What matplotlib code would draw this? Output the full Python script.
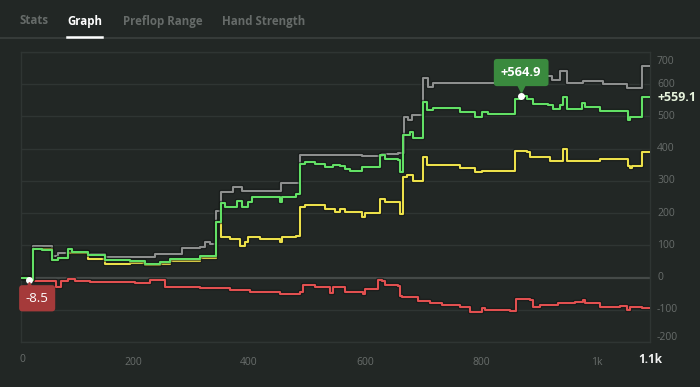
import matplotlib
matplotlib.use('Agg')
import matplotlib.pyplot as plt
import matplotlib.transforms as mtransforms
import matplotlib.patheffects as pe
from matplotlib.lines import Line2D

plt.rcParams['font.family'] = ['Open Sans', 'DejaVu Sans']

# ---------------- data (hand number, value) ----------------
gray_hands = [5, 28, 60, 71, 88, 122, 152, 238, 284, 316, 324, 333, 343, 352, 372, 388, 455, 488, 595, 629,
              657, 667, 674, 681, 700, 709, 717, 860, 922, 936, 948, 976, 1010, 1052, 1078, 1090]
gray_vals = [0, 98, 68, 75, 80, 72, 63, 72, 92, 95, 110, 103, 208, 267, 280, 270, 294, 379, 376, 384,
             386, 498, 488, 503, 619, 591, 605, 624, 612, 641, 603, 609, 601, 588, 656, 656]

green_hands = [5, 21, 28, 43, 60, 71, 88, 95, 122, 152, 195, 221, 247, 264, 316, 343, 352, 359, 379, 388,
               398, 405, 453, 457, 481, 488, 497, 514, 531, 545, 557, 566, 574, 595, 626, 634, 657, 660,
               666, 678, 683, 700, 707, 717, 764, 790, 802, 812, 859, 869, 879, 890, 916, 924, 936, 941,
               948, 974, 979, 1005, 1053, 1057, 1078, 1090]
green_vals = [0, -8.5, 89, 86, 53, 62, 89, 78, 70, 55, 50, 43, 47, 58, 68, 172, 230, 220, 237, 220,
              234, 251, 236, 251, 258, 353, 358, 352, 343, 350, 345, 336, 332, 343, 379, 368, 365, 327,
              441, 451, 432, 544, 519, 525, 513, 498, 513, 509, 555, 564.9, 555, 539, 534, 524, 534, 560,
              524, 541, 529, 516, 490, 498, 559.1, 559.1]

yellow_hands = [5, 21, 28, 60, 71, 88, 122, 152, 195, 221, 247, 264, 316, 343, 352, 367, 384, 393, 398, 419,
                453, 457, 481, 488, 497, 531, 548, 557, 566, 595, 600, 626, 634, 657, 660, 666, 672, 683,
                700, 707, 764, 790, 802, 859, 879, 884, 919, 936, 941, 948, 1005, 1053, 1057, 1060, 1078, 1090]
yellow_vals = [0, -8.5, 89, 53, 60, 75, 58, 42, 45, 38, 42, 50, 60, 172, 127, 120, 99, 110, 125, 120,
               110, 125, 130, 220, 224, 213, 203, 214, 203, 187, 199, 244, 234, 234, 198, 311, 317, 301,
               374, 348, 339, 327, 332, 394, 391, 374, 361, 363, 400, 363, 369, 345, 340, 345, 389, 389]

red_hands = [5, 28, 68, 75, 88, 100, 126, 203, 229, 247, 255, 316, 367, 402, 453, 488, 493, 514, 540, 545,
             566, 597, 600, 622, 629, 634, 657, 660, 664, 691, 712, 733, 764, 781, 802, 807, 850, 860,
             884, 890, 902, 933, 962, 976, 979, 1005, 1040, 1052, 1057, 1078, 1090]
red_vals = [0, -11, -30, -10, -4, -12, -14, -17, -7, -8, -30, -33, -40, -45, -52, -45, -22, -30, -48, -30,
            -46, -51, -35, -7, -10, -22, -26, -56, -59, -73, -80, -84, -92, -108, -94, -100, -105, -66,
            -71, -92, -85, -80, -77, -69, -78, -90, -87, -102, -92, -95, -95]

y_ticks = [-200, -100, 0, 100, 200, 300, 400, 500, 600, 700]
x_ticks = [200, 400, 600, 800, 1000]
x_tick_labels = ['200', '400', '600', '800', '1k']
tabs = ['Stats', 'Graph', 'Preflop Range', 'Hand Strength']

peak_hand, peak_val = 869, 564.9
min_hand, min_val = 21, -8.5
final_val = 559.1

# ---------------- style ----------------
BG = '#222725'
GRID = '#2f3533'
ZERO = '#454a48'
TXT = '#686d6b'
C_GRAY = '#8d8f8e'
C_GREEN = '#62e065'
C_YELLOW = '#ece04a'
C_RED = '#e25050'

W, H = 700, 387
fig = plt.figure(figsize=(W / 100, H / 100), dpi=100, facecolor=BG)
L, R, T, B = 20.7, 650, 52, 342
ax = fig.add_axes([L / W, 1 - B / H, (R - L) / W, (B - T) / H])
ax.set_facecolor(BG)
ax.set_xlim(6.4, 1091)
ax.set_ylim(-200, 700)

for s in ax.spines.values():
    s.set_color(GRID)
    s.set_linewidth(1)
for v in y_ticks:
    if v == 0:
        ax.axhline(v, color=ZERO, lw=1.6, zorder=1)
    else:
        ax.axhline(v, color=GRID, lw=1, zorder=1)

ax.set_yticks([])
ax.set_xticks(x_ticks)
ax.set_xticklabels(x_tick_labels, color=TXT, fontsize=7.5)
ax.tick_params(axis='x', length=0, pad=11)

# y labels on right
ytrans = mtransforms.blended_transform_factory(ax.transAxes, ax.transData)
for v in y_ticks:
    if v == 700:
        tr = mtransforms.offset_copy(ytrans, fig=fig, x=7, y=-10, units='dots')
    elif v == -200:
        tr = mtransforms.offset_copy(ytrans, fig=fig, x=7, y=4, units='dots')
    else:
        tr = mtransforms.offset_copy(ytrans, fig=fig, x=7, y=0, units='dots')
    ax.text(1.0, v, str(v), transform=tr, ha='left', va='center', color=TXT, fontsize=7.5)

# x extra labels
fig.text(22.7 / W, 1 - 359.5 / H, '0', color=TXT, fontsize=7.5, ha='center', va='center')
fig.text(650 / W, 1 - 359.5 / H, '1.1k', color='#f2f2f2', fontsize=8.5, fontweight='bold', ha='center', va='center')

shadow = [pe.Stroke(linewidth=3.2, foreground='#0f1211', alpha=0.55), pe.Normal()]
for hs, vs, c, z in [(gray_hands, gray_vals, C_GRAY, 3), (red_hands, red_vals, C_RED, 4),
                     (yellow_hands, yellow_vals, C_YELLOW, 5), (green_hands, green_vals, C_GREEN, 6)]:
    ax.step(hs, vs, where='post', color=c, lw=1.5, zorder=z, path_effects=shadow)

# peak annotation
ax.plot(peak_hand, peak_val, 'o', ms=4, color='white', zorder=9)
ax.annotate('+564.9', xy=(peak_hand, peak_val), xytext=(0, 23), textcoords='offset pixels',
            ha='center', va='center', color='white', fontsize=9.3, fontweight='bold', zorder=10,
            bbox=dict(boxstyle='round,pad=0.55,rounding_size=0.25', fc='#3a8a3e', ec='none'))
tri = mtransforms.offset_copy(ax.transData, fig=fig, x=0, y=8, units='dots')
ax.plot(peak_hand, peak_val, marker='v', ms=6, color='#3a8a3e', transform=tri, zorder=9, clip_on=False)

# min annotation
ax.plot(min_hand, min_val, 'o', ms=4, color='white', zorder=9)
ax.annotate('-8.5', xy=(min_hand, min_val), xytext=(8, -18), textcoords='offset pixels',
            ha='center', va='center', color='white', fontsize=9.5, zorder=10,
            bbox=dict(boxstyle='round,pad=0.5,rounding_size=0.25', fc='#a53a3a', ec='none'))
tri2 = mtransforms.offset_copy(ax.transData, fig=fig, x=0, y=-6, units='dots')
ax.plot(min_hand, min_val, marker='^', ms=6, color='#a53a3a', transform=tri2, zorder=9, clip_on=False)

# final label
ftr = mtransforms.offset_copy(ytrans, fig=fig, x=7, y=0, units='dots')
ax.text(1.0, final_val, '+559.1', transform=ftr, ha='left', va='center', color='#e6f3dc',
        fontsize=9, fontweight='bold', zorder=10)

# tabs
tab_x = [20, 67, 123, 222]
for i, (t, x) in enumerate(zip(tabs, tab_x)):
    fig.text(x / W, 1 - 21 / H, t, color='white' if t == 'Graph' else '#666b69', fontsize=8.3,
             fontweight='bold', ha='left', va='center')
fig.add_artist(Line2D([0, 1], [1 - 37.5 / H] * 2, color='#363b39', lw=1.5, transform=fig.transFigure))
fig.add_artist(Line2D([67 / W, 101.5 / W], [1 - 36.5 / H] * 2, color='white', lw=1.8, transform=fig.transFigure))

fig.savefig('out.png', dpi=100, facecolor=BG)
